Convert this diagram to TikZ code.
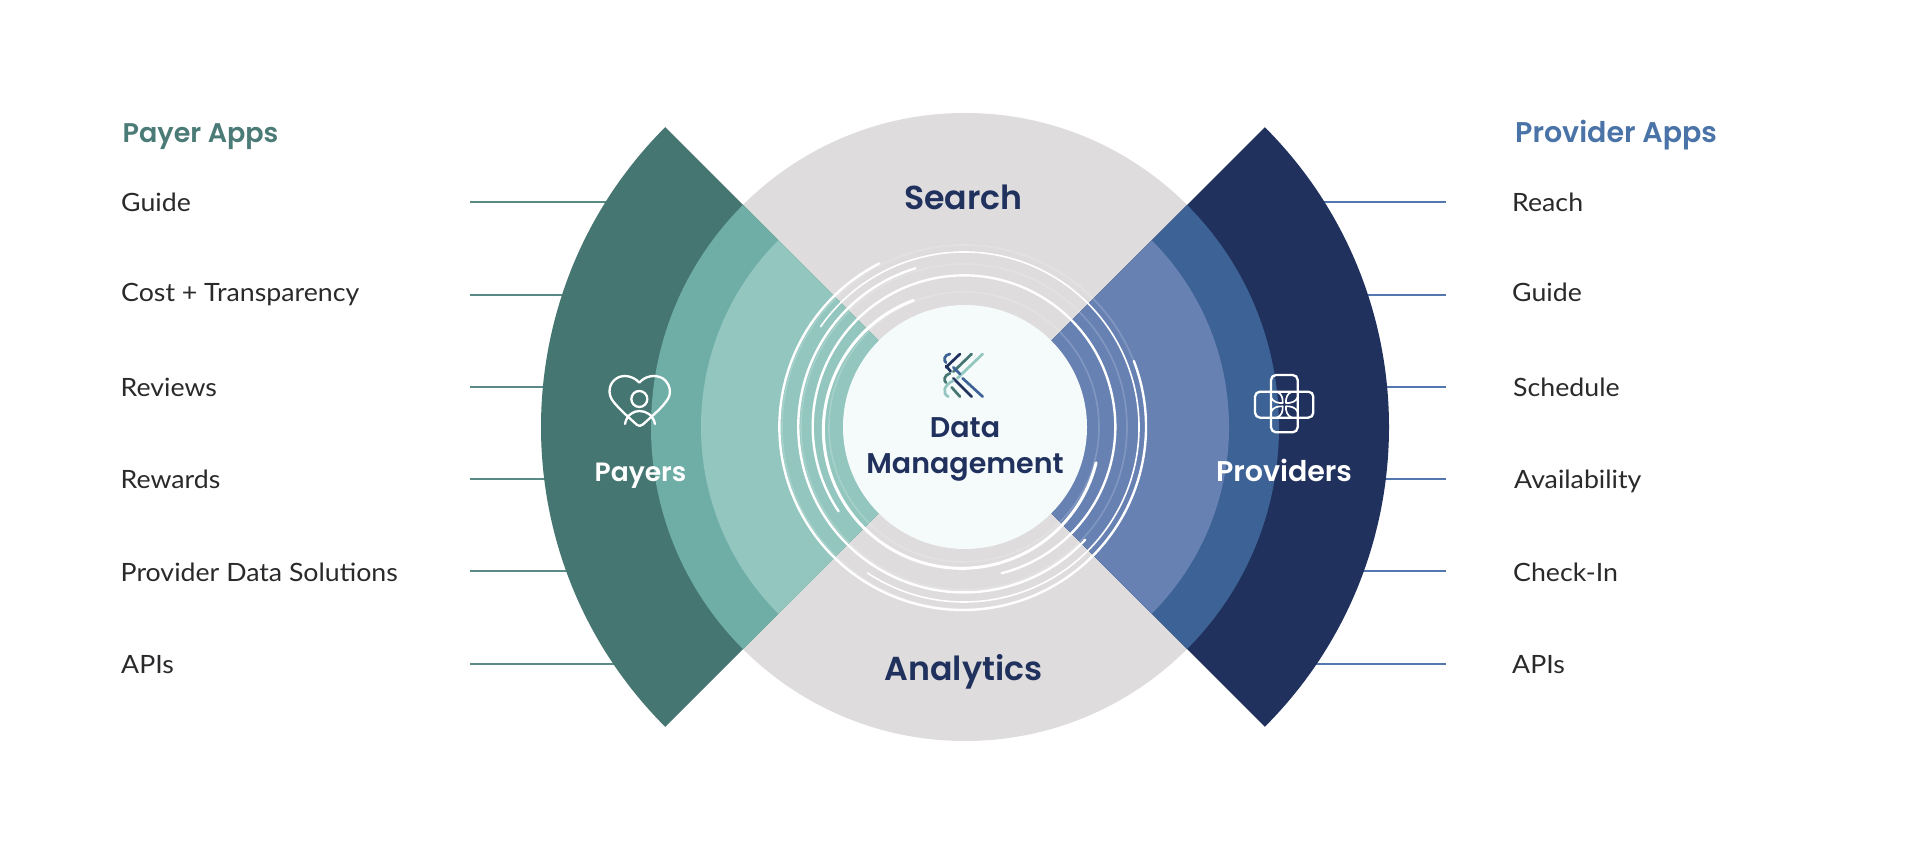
\documentclass[tikz,border=0pt]{standalone}
\usepackage{fontspec}
\setmainfont{Lato}[FakeStretch=1.06]
\newfontfamily\popsb{Poppins SemiBold}
\definecolor{greyc}{HTML}{DEDCDD}
\definecolor{tealD}{HTML}{467671}
\definecolor{tealM}{HTML}{6FAEA7}
\definecolor{tealL}{HTML}{93C6BF}
\definecolor{navyD}{HTML}{20315D}
\definecolor{blueM}{HTML}{3D6295}
\definecolor{blueL}{HTML}{6781B3}
\definecolor{coreC}{HTML}{F5FAFB}
\definecolor{txtC}{HTML}{2A2A2C}
\definecolor{headT}{HTML}{4A7B76}
\definecolor{headB}{HTML}{4A73A8}
\definecolor{lineT}{HTML}{5A8A85}
\definecolor{lineB}{HTML}{5377AE}
\newcommand{\ringarc}[6][ringline]{\draw[#1] (#2,#3) ++(#5:#4pt) arc[start angle=#5,end angle=#6,radius=#4pt];}
\newcommand{\sectorfill}[5]{\fill[#1] (965,426) ++(#4:#3pt) arc[start angle=#4,end angle=#5,radius=#3pt] -- (965,426) -- cycle;}
\tikzset{
  x=1pt,y=1pt,
  ringline/.style={white,line width=2.4pt,line cap=round},
  ringthin/.style={white,line width=1.6pt,line cap=round},
  ringthick/.style={white,line width=3pt,line cap=round},
  ringfaint/.style={white,opacity=.18,line width=1.6pt},
  item/.style={anchor=base west,inner sep=0pt,text=txtC,font=\fontsize{25.2}{28}\selectfont},
  head/.style={anchor=base west,inner sep=0pt,font=\fontsize{27}{32}\popsb},
  zone/.style={anchor=base,inner sep=0pt,text=navyD,font=\fontsize{33.2}{40}\popsb},
  core/.style={anchor=base,inner sep=0pt,text=navyD,font=\fontsize{28.5}{36}\popsb},
  side/.style={anchor=base,inner sep=0pt,text=white,font=\fontsize{26.5}{32}\popsb},
  leadT/.style={lineT,line width=1.6pt},
  leadB/.style={lineB,line width=1.6pt},
  icon/.style={white,line width=2.3pt,line cap=round,line join=round},
  iconfine/.style={white,line width=1.7pt,line cap=round,line join=round},
  logo/.style={line width=2.7pt,line cap=round},
}
\begin{document}
\begin{tikzpicture}
\useasboundingbox (0,0) rectangle (1920,853);
\fill[white] (0,0) rectangle (1920,853);
% leaders
\foreach \n/\Y in {1/202,2/295,3/387,4/479,5/571,6/664}{
  \coordinate (pa\n) at (470,853-\Y);
  \coordinate (pb\n) at (720,853-\Y);
  \coordinate (qa\n) at (1446,853-\Y);
  \coordinate (qb\n) at (1210,853-\Y);
  \draw[leadT] (pa\n) -- (pb\n);
  \draw[leadB] (qa\n) -- (qb\n);
}
% discs and wedges
\fill[greyc] (965,426) circle[radius=314pt];
\sectorfill{tealD}{}{424}{135}{225}
\sectorfill{tealM}{}{314}{135}{225}
\sectorfill{tealL}{}{264}{135}{225}
\sectorfill{navyD}{}{424}{-45}{45}
\sectorfill{blueM}{}{314}{-45}{45}
\sectorfill{blueL}{}{264}{-45}{45}
% faint rings
\draw[ringfaint] (964,426) circle[radius=182pt];
\draw[ringfaint] (964,426) circle[radius=163pt];
\draw[ringfaint] (964,426) circle[radius=135pt];
\fill[coreC] (965,426) circle[radius=122pt];
% white rings
\ringarc[ringthick]{961.7}{423}{138.3}{110.4}{346.3}
\ringarc{964}{426.3}{151.3}{-75.6}{214}
\ringarc{964}{426.3}{165.7}{107}{317}
\ringarc[ringthin]{964}{426}{175}{145}{-123.5}
\ringarc{962.7}{426.3}{183.3}{117}{381}
% left labels
\node[head,text=headT] (payhead) at (122.5,853-142.5) {Payer Apps};
\node[item] (p1) at (121,853-212) {Guide};
\node[item] (p2) at (121,853-302) {Cost + Transparency};
\node[item] (p3) at (120.5,853-397) {Reviews};
\node[item] (p4) at (120.5,853-489) {Rewards};
\node[item] (p5) at (120.5,853-582) {Provider Data Solutions};
\node[item] (p6) at (121,853-674) {APIs};
% right labels
\node[head,text=headB,font=\fontsize{28.5}{32}\popsb] (prohead) at (1515,853-142.5) {Provider Apps};
\node[item] (q1) at (1512,853-212) {Reach};
\node[item] (q2) at (1512,853-302) {Guide};
\node[item] (q3) at (1513,853-397) {Schedule};
\node[item] (q4) at (1514,853-489) {Availability};
\node[item] (q5) at (1513,853-582) {Check-In};
\node[item] (q6) at (1512,853-674) {APIs};
% zones
\node[zone] (search) at (963.5,853-210) {Search};
\node[zone] (analytics) at (963.5,853-681) {Analytics};
\node[core] (data) at (965,853-438) {Data};
\node[core] (mgmt) at (965,853-473.5) {Management};
\node[side] (payers) at (640.5,853-481.5) {Payers};
\node[side,font=\fontsize{28.5}{32}\popsb] (providers) at (1284,853-481.5) {Providers};
% heart icon
\begin{scope}[shift={(580,503)},x=0.3333pt,y=-0.3333pt]
\draw[icon] (178,98) .. controls (160,78) and (130,72) .. (110,85)
  .. controls (88,98) and (80,130) .. (100,155)
  .. controls (120,180) and (155,210) .. (170,224)
  .. controls (175,229) and (182,229) .. (188,224)
  .. controls (205,208) and (240,180) .. (258,155)
  .. controls (280,130) and (268,98) .. (248,85)
  .. controls (225,72) and (195,78) .. (178,98);
\draw[icon] (178,147) circle[radius=8pt];
\draw[icon] (135,222) .. controls (140,195) and (160,183) .. (178,183)
  .. controls (198,183) and (220,195) .. (225,222);
\end{scope}
% provider icon
\begin{scope}[shift={(1250,483)},x=0.3333pt,y=-0.3333pt]
\draw[icon,rounded corners=5pt] (63,15) rectangle (143,187);
\draw[icon,rounded corners=5pt] (15,65) rectangle (190,143);
\draw[iconfine] (63,82) .. controls (68,96) and (85,100) .. (98,99) .. controls (99,85) and (95,70) .. (80,65);
\draw[iconfine] (143,82) .. controls (138,96) and (121,100) .. (108,99) .. controls (107,85) and (111,70) .. (126,65);
\draw[iconfine] (63,126) .. controls (68,112) and (85,108) .. (98,109) .. controls (99,123) and (95,138) .. (80,143);
\draw[iconfine] (143,126) .. controls (138,112) and (121,108) .. (108,109) .. controls (107,123) and (111,138) .. (126,143);
\end{scope}
% logo
\begin{scope}[shift={(740,623)},x=0.3333pt,y=-0.3333pt]
\draw[logo,tealL] (728,372) -- (652,445);
\draw[logo,tealD] (695,372) -- (640,425);
\draw[logo,navyD] (660,372) -- (618,412);
\draw[logo,blueM] (630,372) .. controls (612,374) and (610,392) .. (618,398);
\draw[logo,blueM] (640,412) -- (660,432);
\draw[logo,blueM] (668,445) -- (728,500);
\draw[logo,navyD] (618,408) -- (632,424);
\draw[logo,navyD] (640,445) -- (695,500);
\draw[logo,tealD] (630,430) .. controls (612,436) and (610,452) .. (618,458);
\draw[logo,tealD] (635,472) -- (660,500);
\draw[logo,tealL] (640,452) .. controls (612,465) and (605,490) .. (625,500);
\end{scope}
\end{tikzpicture}
\end{document}
